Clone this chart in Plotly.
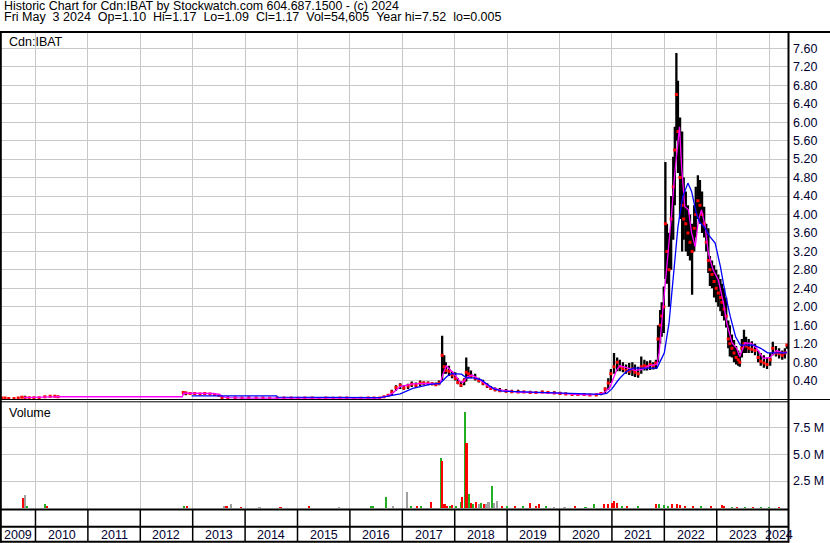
import plotly.graph_objects as go

W, H = 830, 543
def px(x): return x / W
def py(y): return 1 - y / H

FONT = "Liberation Sans, Arial, sans-serif"

# ---------------- data (decimal years) ----------------
bar_dates = [
    2009.36, 2009.42, 2009.49, 2009.59, 2009.67, 2009.74, 2009.80, 2009.88, 2009.97, 2010.07, 2010.18, 2010.28, 2010.37, 2010.43,
    2012.82, 2012.87, 2012.95, 2013.04, 2013.14, 2013.23, 2013.33, 2013.42, 2013.50, 2013.56, 2013.67, 2013.81, 2013.94,
    2014.07, 2014.21, 2014.34, 2014.47, 2014.61, 2014.74, 2014.88, 2015.01, 2015.14, 2015.28, 2015.41, 2015.54, 2015.68,
    2015.81, 2015.94, 2016.08, 2016.21, 2016.35, 2016.46,
    2016.57, 2016.65, 2016.73, 2016.80, 2016.88, 2016.96, 2017.03, 2017.11, 2017.18, 2017.26, 2017.34, 2017.41, 2017.49,
    2017.57, 2017.64, 2017.70, 2017.76, 2017.80, 2017.83, 2017.89, 2017.95, 2018.01, 2018.06, 2018.12, 2018.18, 2018.22,
    2018.26, 2018.31, 2018.39, 2018.46, 2018.54, 2018.62, 2018.69, 2018.77, 2018.86, 2018.98, 2019.09, 2019.21, 2019.32,
    2019.44, 2019.55, 2019.67, 2019.78, 2019.90, 2020.01, 2020.12, 2020.24, 2020.35, 2020.47, 2020.58, 2020.70, 2020.79,
    2020.87, 2020.93, 2020.98, 2021.04, 2021.10, 2021.15,
    2021.21, 2021.27, 2021.33, 2021.39, 2021.44, 2021.50, 2021.56, 2021.62, 2021.67, 2021.73, 2021.79, 2021.84, 2021.88,
    2021.92, 2021.95, 2021.99, 2022.02, 2022.05, 2022.09, 2022.13, 2022.17, 2022.20, 2022.23, 2022.26, 2022.30, 2022.34,
    2022.37, 2022.41, 2022.45, 2022.49, 2022.53, 2022.57, 2022.60, 2022.64, 2022.68, 2022.72, 2022.76, 2022.80, 2022.84,
    2022.87, 2022.91, 2022.95, 2022.99, 2023.03, 2023.07, 2023.10, 2023.14, 2023.18, 2023.22, 2023.25, 2023.29, 2023.33,
    2023.37, 2023.41, 2023.44, 2023.48, 2023.52, 2023.56, 2023.61, 2023.67, 2023.73, 2023.79, 2023.84, 2023.90, 2023.96,
    2024.02, 2024.07, 2024.13, 2024.19, 2024.25, 2024.30, 2024.34,
]
bar_highs = [
    0.04, 0.03, 0.02, 0.02, 0.03, 0.06, 0.07, 0.04, 0.04, 0.04, 0.06, 0.07, 0.07, 0.06,
    0.17, 0.16, 0.15, 0.14, 0.13, 0.14, 0.13, 0.13, 0.11, 0.06, 0.04, 0.04, 0.03,
    0.04, 0.03, 0.03, 0.02, 0.03, 0.03, 0.03, 0.02, 0.03, 0.03, 0.02, 0.03, 0.02,
    0.03, 0.03, 0.02, 0.02, 0.03, 0.03,
    0.03, 0.06, 0.10, 0.20, 0.30, 0.34, 0.30, 0.33, 0.38, 0.36, 0.40, 0.38, 0.38,
    0.36, 0.36, 0.40, 1.37, 0.95, 0.80, 0.72, 0.60, 0.58, 0.45, 0.38, 0.45, 0.90,
    0.70, 0.62, 0.55, 0.46, 0.42, 0.34, 0.28, 0.25, 0.24, 0.22, 0.20, 0.20, 0.18,
    0.18, 0.16, 0.18, 0.17, 0.17, 0.16, 0.14, 0.13, 0.12, 0.12, 0.11, 0.12, 0.14,
    0.25, 0.45, 0.65, 1.00, 0.90, 0.85,
    0.80, 0.75, 0.78, 0.80, 0.75, 0.70, 0.92, 0.85, 0.82, 0.84, 0.80, 0.85, 1.60,
    1.93, 2.10, 2.44, 5.14, 3.80, 3.60, 4.40, 5.25, 5.90, 7.50, 6.90, 6.10, 5.80,
    4.80, 4.50, 4.20, 4.00, 3.80, 4.20, 4.60, 4.85, 4.75, 4.50, 4.17, 3.80, 3.70,
    3.10, 3.00, 2.90, 2.80, 2.70, 2.60, 2.50, 2.40, 2.20, 1.70, 1.60, 1.40, 1.28,
    1.15, 1.05, 1.00, 1.30, 1.50, 1.35, 1.30, 1.25, 1.20, 1.05, 1.00, 0.95, 0.90,
    1.00, 1.24, 1.15, 1.10, 1.05, 1.10, 1.17,
]
bar_lows = [
    0.01, 0.01, 0.005, 0.005, 0.01, 0.02, 0.02, 0.02, 0.02, 0.02, 0.04, 0.04, 0.04, 0.04,
    0.10, 0.08, 0.10, 0.10, 0.09, 0.10, 0.09, 0.09, 0.06, 0.02, 0.02, 0.02, 0.01,
    0.02, 0.01, 0.01, 0.01, 0.01, 0.02, 0.01, 0.01, 0.01, 0.01, 0.005, 0.01, 0.01,
    0.01, 0.01, 0.005, 0.01, 0.01, 0.01,
    0.01, 0.03, 0.05, 0.08, 0.18, 0.22, 0.20, 0.22, 0.26, 0.24, 0.28, 0.30, 0.30,
    0.30, 0.29, 0.30, 0.40, 0.55, 0.55, 0.50, 0.45, 0.40, 0.32, 0.26, 0.30, 0.38,
    0.45, 0.45, 0.40, 0.36, 0.30, 0.24, 0.20, 0.17, 0.15, 0.14, 0.14, 0.13, 0.13,
    0.12, 0.12, 0.13, 0.12, 0.11, 0.10, 0.09, 0.08, 0.08, 0.08, 0.07, 0.07, 0.08,
    0.12, 0.20, 0.35, 0.55, 0.60, 0.60,
    0.58, 0.55, 0.52, 0.50, 0.48, 0.46, 0.55, 0.62, 0.62, 0.63, 0.64, 0.65, 0.80,
    1.20, 1.35, 1.43, 2.60, 2.50, 2.00, 2.80, 3.45, 4.20, 5.60, 4.90, 3.90, 3.20,
    3.45, 3.20, 3.10, 3.00, 2.26, 3.20, 3.50, 3.90, 3.80, 3.60, 3.50, 3.20, 2.73,
    2.45, 2.40, 2.20, 2.10, 2.00, 1.90, 1.80, 1.70, 1.55, 1.10, 0.92, 0.90, 0.80,
    0.75, 0.72, 0.70, 0.90, 1.00, 1.00, 1.00, 1.00, 0.95, 0.80, 0.72, 0.68, 0.65,
    0.72, 0.95, 0.92, 0.88, 0.85, 0.88, 1.09,
]
bar_closes = [
    0.02, 0.02, 0.01, 0.01, 0.02, 0.04, 0.03, 0.03, 0.03, 0.03, 0.05, 0.06, 0.06, 0.05,
    0.14, 0.13, 0.12, 0.12, 0.11, 0.12, 0.11, 0.10, 0.08, 0.03, 0.03, 0.03, 0.02,
    0.03, 0.02, 0.02, 0.015, 0.02, 0.025, 0.02, 0.015, 0.02, 0.02, 0.01, 0.02, 0.015,
    0.02, 0.02, 0.01, 0.015, 0.02, 0.02,
    0.02, 0.05, 0.08, 0.15, 0.25, 0.30, 0.24, 0.28, 0.32, 0.30, 0.35, 0.35, 0.34,
    0.33, 0.31, 0.35, 0.95, 0.70, 0.62, 0.60, 0.52, 0.45, 0.36, 0.30, 0.40, 0.58,
    0.55, 0.50, 0.45, 0.40, 0.34, 0.28, 0.23, 0.20, 0.18, 0.17, 0.16, 0.15, 0.15,
    0.14, 0.14, 0.15, 0.14, 0.13, 0.12, 0.11, 0.10, 0.10, 0.10, 0.09, 0.09, 0.12,
    0.22, 0.35, 0.55, 0.70, 0.80, 0.70,
    0.66, 0.62, 0.60, 0.65, 0.58, 0.55, 0.70, 0.72, 0.70, 0.75, 0.72, 0.78, 1.30,
    1.60, 1.80, 2.00, 3.80, 3.20, 2.80, 3.90, 4.60, 5.40, 6.60, 5.80, 4.80, 4.20,
    3.90, 3.80, 3.60, 3.40, 3.20, 3.70, 4.00, 4.30, 4.20, 4.00, 3.80, 3.40, 3.00,
    2.80, 2.70, 2.55, 2.40, 2.30, 2.20, 2.10, 1.95, 1.80, 1.30, 1.20, 1.10, 1.00,
    0.90, 0.85, 0.80, 1.10, 1.20, 1.15, 1.10, 1.08, 1.05, 0.90, 0.82, 0.78, 0.75,
    0.85, 1.10, 1.00, 0.98, 0.95, 1.00, 1.17,
]

short_ma_dates = [
    2009.78, 2010.05, 2010.30, 2010.43, 2012.80, 2012.83, 2013.00, 2013.40, 2013.50, 2013.60, 2013.70, 2014.00,
    2015.00, 2016.00, 2016.55, 2016.70, 2016.82, 2016.96, 2017.20, 2017.53, 2017.72, 2017.78, 2017.84, 2017.97,
    2018.10, 2018.16, 2018.24, 2018.33, 2018.48, 2018.67, 2018.86, 2019.20, 2019.60, 2019.95, 2020.30, 2020.60,
    2020.83, 2020.96, 2021.09, 2021.15, 2021.28, 2021.44, 2021.57, 2021.69, 2021.86, 2021.90, 2021.95, 2022.05,
    2022.14, 2022.20, 2022.29, 2022.33, 2022.39, 2022.46, 2022.52, 2022.59, 2022.65, 2022.71, 2022.78, 2022.84,
    2022.93, 2023.03, 2023.13, 2023.19, 2023.29, 2023.38, 2023.44, 2023.54, 2023.67, 2023.76, 2023.89, 2024.02,
    2024.14, 2024.27, 2024.34,
]
short_ma_values = [
    0.03, 0.03, 0.045, 0.05, 0.05, 0.13, 0.13, 0.12, 0.10, 0.04, 0.03, 0.02,
    0.02, 0.02, 0.02, 0.06, 0.13, 0.27, 0.33, 0.34, 0.33, 0.55, 0.72, 0.57,
    0.38, 0.36, 0.48, 0.52, 0.42, 0.26, 0.20, 0.15, 0.14, 0.13, 0.10, 0.09,
    0.12, 0.25, 0.63, 0.72, 0.68, 0.62, 0.64, 0.72, 0.75, 1.00, 1.65, 2.87,
    4.03, 4.90, 5.90, 5.03, 4.17, 4.10, 3.60, 3.30, 3.88, 4.10, 3.73, 3.16,
    2.80, 2.58, 2.08, 1.65, 1.22, 1.10, 0.92, 1.22, 1.20, 1.10, 0.88, 0.90,
    1.05, 1.00, 1.02,
]

long_ma_dates = [
    2012.98, 2014.60, 2014.62, 2016.57, 2016.96, 2017.20, 2017.53, 2017.72, 2017.85, 2017.94, 2018.13, 2018.22,
    2018.35, 2018.50, 2018.62, 2018.75, 2018.90, 2019.50, 2020.00, 2020.50, 2020.80, 2020.90, 2021.00, 2021.10,
    2021.15, 2021.28, 2021.41, 2021.86, 2022.00, 2022.09, 2022.18, 2022.26, 2022.35, 2022.45, 2022.52, 2022.61,
    2022.67, 2022.78, 2022.87, 2022.97, 2023.07, 2023.16, 2023.26, 2023.36, 2023.45, 2023.71, 2023.84, 2023.97,
    2024.34,
]
long_ma_values = [
    0.07, 0.07, 0.04, 0.03, 0.11, 0.23, 0.32, 0.34, 0.49, 0.55, 0.54, 0.46,
    0.46, 0.42, 0.32, 0.22, 0.17, 0.15, 0.12, 0.10, 0.10, 0.12, 0.22, 0.38,
    0.45, 0.60, 0.67, 0.67, 1.00, 1.65, 2.73, 3.73, 4.38, 4.68, 4.50, 4.03,
    3.84, 3.70, 3.52, 3.38, 2.87, 2.30, 1.78, 1.35, 1.17, 1.17, 1.10, 1.00,
    1.00,
]

# volume in millions; direction +1 up, -1 down, 0 unchanged
vol_dates = [
    2009.76, 2009.80, 2009.84, 2010.18, 2010.23, 2012.84, 2012.90, 2013.60, 2013.65, 2013.73, 2013.93, 2014.28,
    2014.68, 2015.23, 2015.79, 2016.40, 2016.45, 2016.70, 2016.83, 2017.10, 2017.17, 2017.28, 2017.36, 2017.55,
    2017.74, 2017.77, 2017.81, 2017.86, 2017.91, 2017.96, 2018.03, 2018.12, 2018.15, 2018.20, 2018.23, 2018.27,
    2018.31, 2018.36, 2018.41, 2018.46, 2018.51, 2018.56, 2018.60, 2018.65, 2018.71, 2018.76, 2018.82, 2018.90,
    2019.00, 2019.15, 2019.30, 2019.45, 2019.55, 2019.62, 2019.75, 2019.90, 2020.10, 2020.30, 2020.50, 2020.66,
    2020.86, 2020.93, 2021.00, 2021.05, 2021.10, 2021.20, 2021.30, 2021.50, 2021.85, 2021.90, 2022.00, 2022.08,
    2022.15, 2022.25, 2022.30, 2022.40, 2022.55, 2022.70, 2022.90, 2023.10, 2023.15, 2023.30, 2023.40, 2023.55,
    2023.70, 2023.85, 2024.00, 2024.20,
]
vol_millions = [
    0.90, 1.20, 0.15, 0.30, 0.15, 0.15, 0.10, 0.15, 0.10, 0.30, 0.05, 0.05,
    0.05, 0.10, 0.05, 0.20, 0.15, 1.00, 0.10, 1.45, 0.15, 0.20, 0.10, 0.50,
    4.70, 4.35, 0.30, 0.20, 0.15, 0.25, 0.20, 0.50, 1.00, 9.00, 6.10, 1.30,
    0.40, 0.30, 0.50, 0.30, 0.40, 0.35, 0.30, 0.50, 2.00, 0.45, 0.60, 0.15,
    0.15, 0.10, 0.20, 0.40, 0.20, 0.35, 0.10, 0.05, 0.05, 0.10, 0.05, 0.30,
    0.30, 0.30, 0.45, 0.60, 0.40, 0.20, 0.15, 0.20, 0.35, 0.30, 0.25, 0.20,
    0.30, 0.30, 0.25, 0.20, 0.15, 0.10, 0.10, 0.25, 0.15, 0.05, 0.05, 0.05,
    0.05, 0.05, 0.05, 0.05,
]
vol_dirs = [
    -1, 0, 1, 1, -1, 1, -1, 0, -1, 0, -1, 0,
    -1, -1, 0, 1, 1, 1, 0, 0, 1, -1, 1, -1,
    1, -1, -1, -1, 1, -1, 1, 1, -1, 1, -1, 1,
    -1, 1, -1, 0, 1, -1, 0, 0, 1, 0, 0, -1,
    1, -1, 1, -1, -1, -1, 1, 0, 0, -1, 1, 1,
    -1, -1, -1, -1, -1, 1, -1, 1, -1, 1, 1, 1,
    -1, -1, -1, -1, -1, 1, -1, -1, -1, 1, -1, 1,
    -1, 1, 1, -1,
]

year_labels = [str(y) for y in range(2009, 2025)]
price_ticks = [0.4, 0.8, 1.2, 1.6, 2.0, 2.4, 2.8, 3.2, 3.6, 4.0, 4.4, 4.8, 5.2, 5.6, 6.0, 6.4, 6.8, 7.2, 7.6]
volume_ticks = [2.5, 5.0, 7.5]

# ---------------- geometry ----------------
X0, X1 = 2009.342, 2024.36
PL, PR = 1, 788          # plot left / right pixel
PT, PB = 32, 399.5       # price panel
VT, VB = 402, 509.5      # volume panel

fig = go.Figure()

# high-low bars
bx, by = [], []
for d, hi, lo in zip(bar_dates, bar_highs, bar_lows):
    bx += [d, d, None]
    by += [lo, hi, None]
fig.add_trace(go.Scatter(x=bx, y=by, mode="lines", line=dict(color="black", width=2.3),
                         xaxis="x", yaxis="y", hoverinfo="skip"))
fig.add_trace(go.Scatter(x=bar_dates, y=bar_closes, mode="markers",
                         marker=dict(color="#ff0000", size=3, symbol="square", line=dict(width=0)),
                         xaxis="x", yaxis="y"))
fig.add_trace(go.Scatter(x=short_ma_dates, y=short_ma_values, mode="lines",
                         line=dict(color="#ff00ff", width=1.3), xaxis="x", yaxis="y"))
fig.add_trace(go.Scatter(x=long_ma_dates, y=long_ma_values, mode="lines",
                         line=dict(color="#0000ff", width=1.3), xaxis="x", yaxis="y"))

dir_colors = {1: "#22b022", -1: "#ff0000", 0: "#a0a0a0"}
fig.add_trace(go.Bar(x=vol_dates, y=vol_millions, width=0.03,
                     marker=dict(color=[dir_colors[d] for d in vol_dirs], line=dict(width=0)),
                     xaxis="x2", yaxis="y2"))

tickfont = dict(family=FONT, size=12.5, color="#000030")
grid = "#c8c8c8"
year_bounds = list(range(2010, 2025))

fig.update_layout(
    width=W, height=H, margin=dict(l=0, r=0, t=0, b=0),
    paper_bgcolor="white", plot_bgcolor="white", showlegend=False, bargap=0,
    xaxis=dict(domain=[px(PL), px(PR)], range=[X0, X1], tickvals=year_bounds, showticklabels=False,
               showgrid=True, gridcolor=grid, gridwidth=1, zeroline=False, anchor="y", ticks=""),
    yaxis=dict(domain=[py(PB), py(PT)], range=[-0.01, 7.955], side="right", anchor="x",
               tickvals=price_ticks, ticktext=[f"{v:.2f}" for v in price_ticks], tickfont=tickfont,
               showgrid=True, gridcolor=grid, gridwidth=1, zeroline=False, ticks="", ticklabelstandoff=4),
    xaxis2=dict(domain=[px(PL), px(PR)], range=[X0, X1], tickvals=year_bounds, showticklabels=False,
                showgrid=True, gridcolor=grid, gridwidth=1, zeroline=False, anchor="y2", ticks="", matches="x"),
    yaxis2=dict(domain=[py(VB), py(VT)], range=[-0.17, 9.9], side="right", anchor="x2",
                tickvals=volume_ticks, ticktext=[f"{v:.1f} M" for v in volume_ticks], tickfont=tickfont,
                showgrid=True, gridcolor=grid, gridwidth=1, zeroline=False, ticks="", ticklabelstandoff=4),
)

shapes = []
def hline(y, x0=0, x1=W, w=2):
    shapes.append(dict(type="line", xref="paper", yref="paper", x0=px(x0), x1=px(x1), y0=py(y), y1=py(y),
                       line=dict(color="black", width=w)))
def vline(x, y0, y1, w=2):
    shapes.append(dict(type="line", xref="paper", yref="paper", x0=px(x), x1=px(x), y0=py(y0), y1=py(y1),
                       line=dict(color="black", width=w)))

hline(32, 0, W, 2)
hline(399.5, 0, W, 1)
hline(401.8, 0, PR, 1)
hline(509.5, 0, PR + 1, 2)
hline(526.7, 0, PR + 1, 2)
hline(541.8, 0, PR + 1, 2)
vline(0.8, 32, 542.5, 2)
vline(788.5, 31, 542.5, 2)
for yb in year_bounds:
    shapes.append(dict(type="line", xref="x", yref="paper", x0=yb, x1=yb, y0=py(509.5), y1=py(541.8),
                       line=dict(color="black", width=1.5)))

annotations = []
for i, lab in enumerate(year_labels):
    y0 = max(int(lab), X0)
    y1 = min(int(lab) + 1, X1)
    annotations.append(dict(x=(y0 + y1) / 2, y=py(534.5), xref="x", yref="paper", text=lab, showarrow=False,
                            xanchor="center", yanchor="middle", font=dict(family=FONT, size=12.5, color="#000030")))

sp = "\u00a0"
annotations.append(dict(x=px(2), y=py(5.5), xref="paper", yref="paper", showarrow=False, xanchor="left",
                        yanchor="middle", font=dict(family=FONT, size=12.4, color="black"),
                        text="Historic Chart for Cdn:IBAT by Stockwatch.com 604.687.1500 - (c) 2024"))
line2 = (f"Fri May{sp}{sp}3 2024{sp}{sp}Op=1.10{sp}{sp}Hi=1.17{sp}{sp}Lo=1.09{sp}{sp}Cl=1.17{sp}{sp}"
         f"Vol=54,605{sp}{sp}Year hi=7.52{sp}{sp}lo=0.005")
annotations.append(dict(x=px(2), y=py(17.5), xref="paper", yref="paper", showarrow=False, xanchor="left",
                        yanchor="middle", font=dict(family=FONT, size=12.5, color="black"), text=line2))
annotations.append(dict(x=px(7), y=py(42), xref="paper", yref="paper", showarrow=False, xanchor="left",
                        yanchor="middle", font=dict(family=FONT, size=12.5, color="black"), text="Cdn:IBAT"))
annotations.append(dict(x=px(7), y=py(413), xref="paper", yref="paper", showarrow=False, xanchor="left",
                        yanchor="middle", font=dict(family=FONT, size=12.5, color="black"), text="Volume"))

fig.update_layout(shapes=shapes, annotations=annotations)
fig.write_html("out.html", config={"displayModeBar": False},
               post_script="document.body.style.margin='0';document.body.style.overflow='hidden';")
